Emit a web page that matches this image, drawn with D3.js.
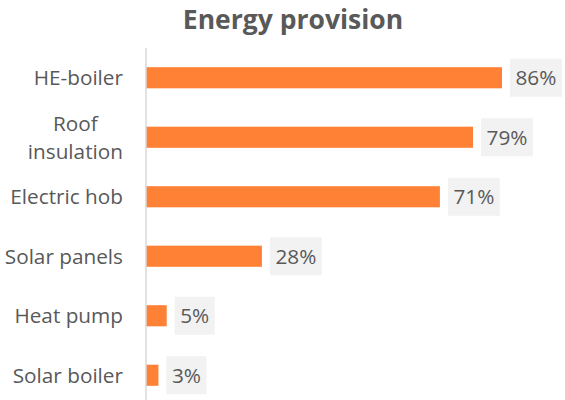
<!DOCTYPE html>
<html><head><meta charset="utf-8">
<script src="https://cdn.jsdelivr.net/npm/d3@7"></script>
<style>body{margin:0;background:#fff}svg{display:block}</style>
</head><body>
<script>
const categories = ["HE-boiler", "Roof insulation", "Electric hob", "Solar panels", "Heat pump", "Solar boiler"];
const values = [86, 79, 71, 28, 5, 3];
const title = "Energy provision";

const W = 565, H = 400;
const font = "'Open Sans', sans-serif";
const fs = 20.75;
const svg = d3.select("body").append("svg").attr("width", W).attr("height", H);

const x = d3.scaleLinear().domain([0, 86]).range([146, 502]);
const y = d3.scaleBand().domain(categories).range([48, 405]).paddingInner(0.645).paddingOuter(0.3225);

svg.append("text").attr("x", 293).attr("y", 28.5).attr("text-anchor", "middle")
  .attr("font-family", font).attr("font-weight", "bold").attr("font-size", 26.5)
  .attr("fill", "#595959").text(title);

svg.selectAll("rect.bar").data(values).join("rect").attr("class", "bar")
  .attr("x", x(0)).attr("y", (d, i) => y(categories[i]))
  .attr("width", d => x(d) - x(0)).attr("height", y.bandwidth())
  .attr("fill", "#FF8135");

svg.append("line").attr("x1", 146).attr("x2", 146).attr("y1", 48).attr("y2", 405)
  .attr("stroke", "#D9D9D9").attr("stroke-width", 1.5);

// data labels
const lab = svg.selectAll("g.lab").data(values).join("g").attr("class", "lab");
lab.each(function (d, i) {
  const g = d3.select(this);
  const cy = y(categories[i]) + y.bandwidth() / 2;
  const t = g.append("text").attr("font-family", font).attr("font-size", fs).attr("fill", "#595959")
    .attr("text-anchor", "middle").text(d + "%");
  const w = t.node().getComputedTextLength();
  const bx = x(d) + 8;
  g.insert("rect", "text").attr("x", bx).attr("y", cy - 19).attr("width", w + 11).attr("height", 38).attr("fill", "#F2F2F2");
  t.attr("x", bx + (w + 11) / 2).attr("y", cy + 7.5);
});

// category labels
const cl = svg.selectAll("g.cat").data(categories).join("g").attr("class", "cat");
cl.each(function (c) {
  const g = d3.select(this);
  const cy = y(c) + y.bandwidth() / 2;
  const lines = c === "Roof insulation" ? ["Roof", "insulation"] : [c];
  const ts = lines.map(l => g.append("text").attr("font-family", font).attr("font-size", fs)
    .attr("fill", "#595959").attr("text-anchor", "middle").text(l));
  const mw = d3.max(ts, t => t.node().getComputedTextLength());
  const lh = 28;
  ts.forEach((t, k) => t.attr("x", 123 - mw / 2).attr("y", cy + 7.5 + (k - (lines.length - 1) / 2) * lh));
});
</script>
</body></html>
